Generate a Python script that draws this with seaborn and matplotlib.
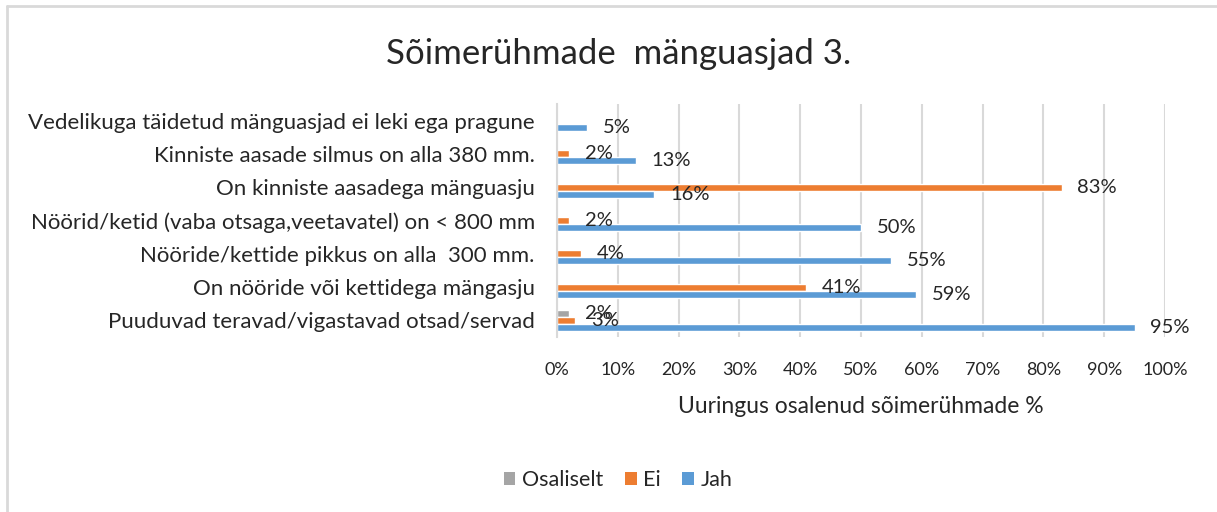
import numpy as np
import pandas as pd
import matplotlib.pyplot as plt
import seaborn as sns
from matplotlib.lines import Line2D
from matplotlib.patches import Patch

sns.set_style("white")
plt.rcParams['font.family'] = ['Lato', 'DejaVu Sans']

# data
categories = [
    "Vedelikuga täidetud mänguasjad ei leki ega pragune",
    "Kinniste aasade silmus on alla 380 mm.",
    "On kinniste aasadega mänguasju",
    "Nöörid/ketid (vaba otsaga,veetavatel) on < 800 mm",
    "Nööride/kettide pikkus on alla  300 mm.",
    "On nööride või kettidega mängasju",
    "Puuduvad teravad/vigastavad otsad/servad",
]
jah = [5, 13, 16, 50, 55, 59, 95]
ei = [np.nan, 2, 83, 2, 4, 41, 3]
osaliselt = [np.nan, np.nan, np.nan, np.nan, np.nan, np.nan, 2]

series_names = ["Osaliselt", "Ei", "Jah"]
colors = {"Osaliselt": "#A5A5A5", "Ei": "#ED7D31", "Jah": "#5B9BD5"}
text_color = "#262626"

df = pd.DataFrame({
    "category": categories * 3,
    "series": ["Osaliselt"] * 7 + ["Ei"] * 7 + ["Jah"] * 7,
    "value": osaliselt + ei + jah,
})

fig = plt.figure(figsize=(12.17, 5.12), dpi=100)
ax = fig.add_axes([557 / 1217, 175 / 512, 608 / 1217, 233 / 512])

sns.barplot(data=df, x="value", y="category", hue="series", hue_order=series_names,
            palette=colors, orient="h", width=0.63, errorbar=None, legend=False,
            saturation=1, ax=ax)

# value labels outside the bar ends
for p in ax.patches:
    w = p.get_width()
    if w is None or np.isnan(w) or w <= 0:
        continue
    ax.text(w + 2.6, p.get_y() + p.get_height() / 2, f"{w:.0f}%",
            va="center", ha="left", fontsize=14.5, color=text_color)

ax.set_xlim(0, 100)
ax.set_ylim(6.5, -0.5)
ax.set_xticks(range(0, 101, 10))
ax.set_xticklabels([f"{t}%" for t in range(0, 101, 10)])
ax.tick_params(axis="x", length=0, pad=18, labelsize=13, colors=text_color)
ax.tick_params(axis="y", length=0, pad=16, labelsize=16, colors=text_color)
ax.set_ylabel("")
ax.set_xlabel("Uuringus osalenud sõimerühmade %", fontsize=16.5, color=text_color, labelpad=13)

ax.grid(axis="x", color="#D9D9D9", linewidth=1.5)
ax.set_axisbelow(True)
for s in ["top", "right", "bottom"]:
    ax.spines[s].set_visible(False)
ax.spines["left"].set_color("#D9D9D9")
ax.spines["left"].set_linewidth(1.5)

fig.text(619 / 1217, 1 - 54 / 512, "Sõimerühmade  mänguasjad 3.", ha="center", va="center",
         fontsize=25, color=text_color)

handles = [Patch(facecolor=colors[s], edgecolor="none") for s in series_names]
fig.legend(handles, series_names, loc="center", bbox_to_anchor=(618 / 1217, 1 - 480 / 512),
           ncol=3, frameon=False, fontsize=15.5, handlelength=0.55, handleheight=0.55,
           handletextpad=0.3, columnspacing=1.0, labelcolor=text_color)

# chart frame (top and left edges visible in the reference)
fig.add_artist(Line2D([7 / 1217, 1], [1 - 6 / 512, 1 - 6 / 512], transform=fig.transFigure,
                      color="#D9D9D9", linewidth=2))
fig.add_artist(Line2D([7 / 1217, 7 / 1217], [0, 1 - 6 / 512], transform=fig.transFigure,
                      color="#D9D9D9", linewidth=2))

fig.savefig("out.png", dpi=100)
